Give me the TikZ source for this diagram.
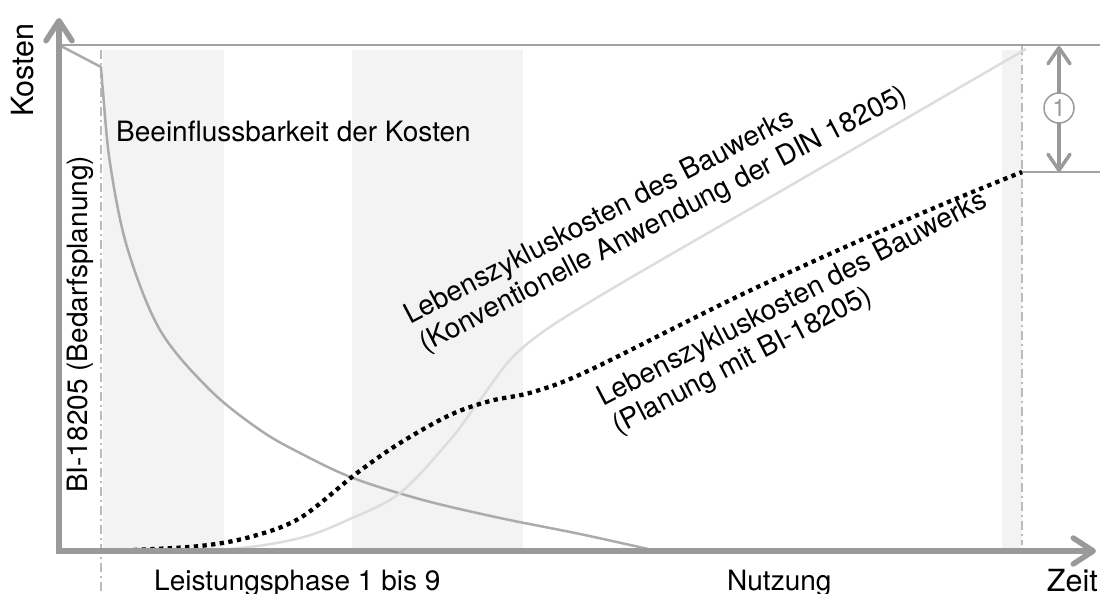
\documentclass[tikz,border=0pt]{standalone}
\usepackage{fontspec}
\setmainfont{TeX Gyre Heros}
\usetikzlibrary{arrows.meta}
\definecolor{axisgray}{HTML}{9A9A9A}
\definecolor{rulegray}{HTML}{A2A2A2}
\definecolor{curvegray}{HTML}{ABABAB}
\definecolor{lightcurve}{HTML}{DDDDDD}
\definecolor{bandgray}{HTML}{F3F3F3}
\definecolor{guidegray}{HTML}{BBBBBB}

\begin{document}
\begin{tikzpicture}[x=1pt,y=-1pt,
  band/.style={fill=bandgray,draw=none},
  guide/.style={draw=guidegray,line width=1.8pt,dash pattern=on 9pt off 4pt on 2pt off 4pt},
  axis/.style={draw=axisgray,line width=5.5pt,-{Straight Barb[length=20pt,width=26pt,round]}},
  dimarrow/.style={draw=axisgray,line width=3.5pt,{Straight Barb[length=16pt,width=22pt,round]}-{Straight Barb[length=16pt,width=22pt,round]}},
  rule/.style={draw=rulegray,line width=2pt},
  lbl/.style={font=\fontsize{28}{33}\selectfont,inner sep=0pt},
  axlbl/.style={font=\fontsize{30.5}{36}\selectfont,inner sep=0pt,text depth=0pt},
  slanted/.style={lbl,anchor=base west,rotate=27.5},
]
\useasboundingbox (0,0) rectangle (1104,594);

% shaded phases
\fill[band] (103,50) rectangle (224,550);
\fill[band] (352,50) rectangle (523,550);
\fill[band] (1002,50) rectangle (1022,550);

% key points
\coordinate (o)    at (59,551);
\coordinate (ytip) at (59,18);
\coordinate (xtip) at (1096,551);
\coordinate (tl)   at (59,45);
\coordinate (tr)   at (1100,45);
\coordinate (bl)   at (1022,172);
\coordinate (br)   at (1100,172);
\coordinate (g1a)  at (101,50);
\coordinate (g1b)  at (101,594);
\coordinate (g2a)  at (1022,46);
\coordinate (g2b)  at (1022,545);
\coordinate (d1)   at (1059,46);
\coordinate (d2)   at (1059,172);

% phase boundaries
\draw[guide] (g1a) -- (g1b);
\draw[guide] (g2a) -- (g2b);

% cost levels
\draw[rule] (tl) -- (tr);
\draw[rule] (bl) -- (br);

% influence on costs
\draw[curvegray,line width=2.5pt,line join=round]
  (tl) -- (101,67) -- plot[smooth,tension=0.55] coordinates
  {(101,67) (103,92) (110,163) (127,247) (160,330) (210,390) (260,430)
   (300,453) (353,478) (423,500) (500,518) (580,534) (657,551)};

% life-cycle costs, conventional
\draw[lightcurve,line width=2.5pt] plot[smooth,tension=0.55] coordinates
  {(130,551) (230,549) (300,538) (350,519) (400,493) (450,440) (480,400)
   (520,350) (593,300) (800,180) (1026,49)};

% life-cycle costs, planned with BI-18205
\draw[black,line width=4.3pt,dash pattern=on 4.3pt off 4.4pt] plot[smooth,tension=0.55] coordinates
  {(133,550) (200,546) (250,537) (300,518) (357,473) (400,443) (450,415)
   (490,401) (533,392) (590,370) (747,292) (913,217) (1022,172)};

% axes
\draw[axis] (56.5,551) -- (xtip);
\draw[axis] (59,553.5) -- (ytip);

% difference marker
\draw[dimarrow] (d1) -- (d2);
\node[circle,draw=axisgray,line width=1.5pt,fill=white,minimum size=30pt,inner sep=0pt,
      text=axisgray,font=\fontsize{24}{28}\selectfont] (n1) at (1059,108) {1};

% labels
\node[axlbl,anchor=base west,rotate=90] (ky) at (34,117) {Kosten};
\node[axlbl,anchor=base east] (zx) at (1098,591) {Zeit};
\node[lbl,anchor=base west] (bk) at (116,142) {Beeinflussbarkeit der Kosten};
\node[lbl,anchor=base west,rotate=90] (bi) at (87,493) {BI-18205 (Bedarfsplanung)};
\node[lbl,anchor=base west] (lp) at (154,590) {Leistungsphase 1 bis 9};
\node[lbl,anchor=base west] (nu) at (727,590) {Nutzung};
\node[slanted] (k1) at (410,325) {Lebenszykluskosten des Bauwerks};
\node[slanted] (k2) at (425,353) {(Konventionelle Anwendung der DIN 18205)};
\node[slanted] (p1) at (603,407) {Lebenszykluskosten des Bauwerks};
\node[slanted] (p2) at (618,435) {(Planung mit BI-18205)};
\end{tikzpicture}
\end{document}
